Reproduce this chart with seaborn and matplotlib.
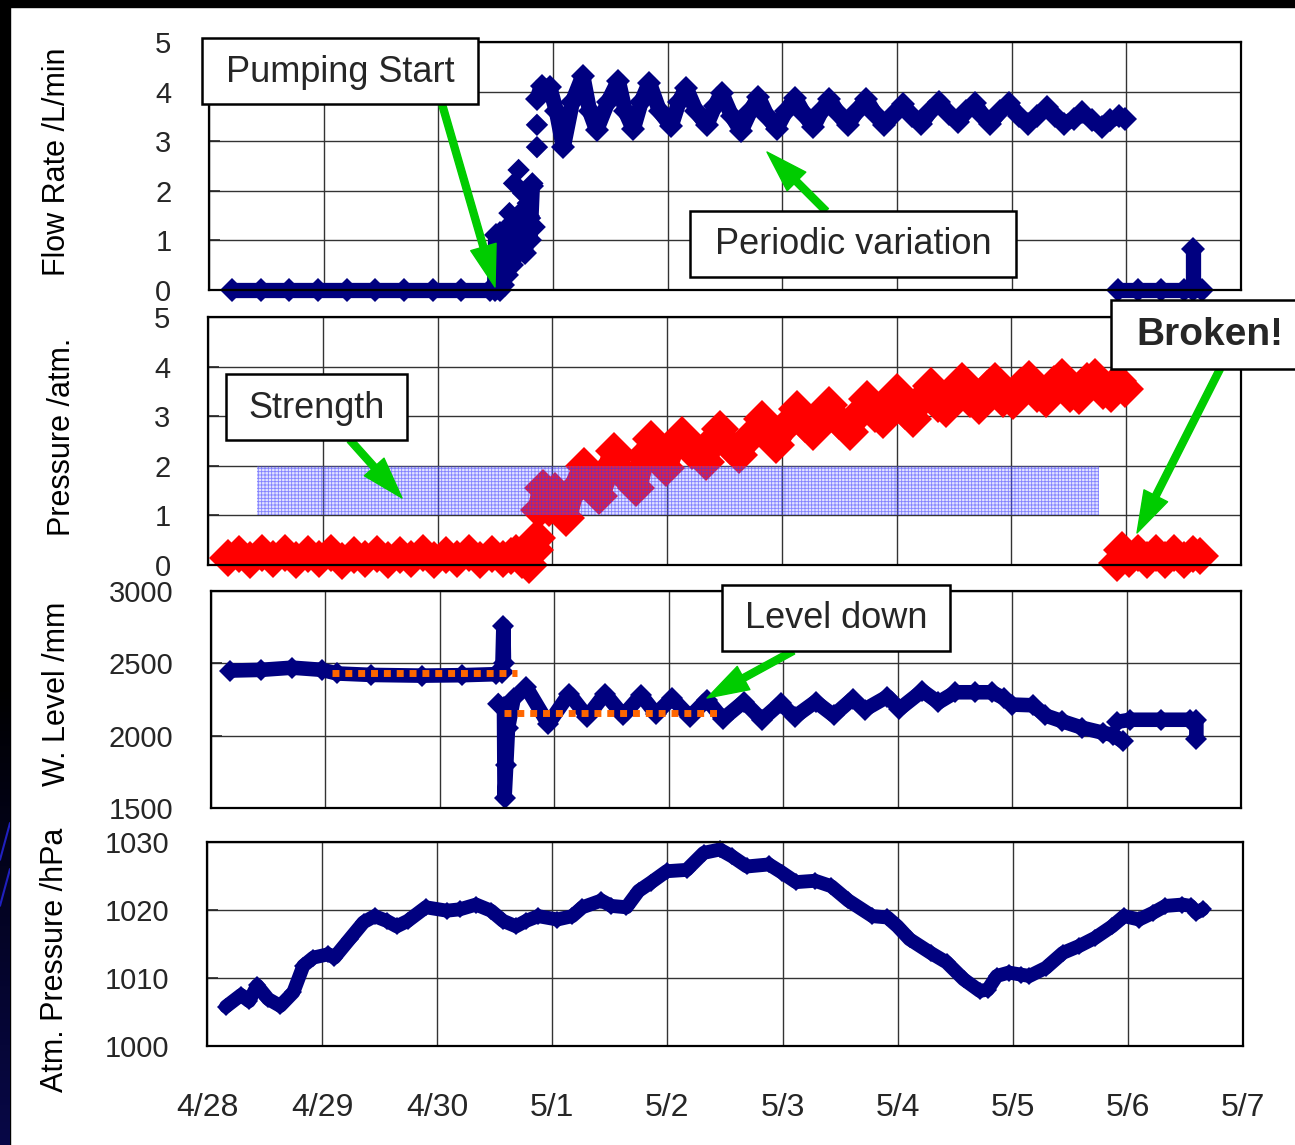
import matplotlib
matplotlib.use("Agg")
import matplotlib.pyplot as plt
import numpy as np
import pandas as pd
import seaborn as sns
from matplotlib.patches import Rectangle, FancyArrowPatch

# ---------------- data (x = days since 4/28 00:00) ----------------
day_ticks = [0, 1, 2, 3, 4, 5, 6, 7, 8, 9]
day_labels = ["4/28", "4/29", "4/30", "5/1", "5/2", "5/3", "5/4", "5/5", "5/6", "5/7"]

# Flow rate (L/min)
flow_idle_days = [0.20, 0.45, 0.70, 0.95, 1.20, 1.45, 1.70, 1.95, 2.20, 2.45, 2.54]
flow_idle_vals = [0, 0, 0, 0, 0, 0, 0, 0, 0, 0, 0]
flow_start_days = [2.49, 2.50, 2.52, 2.54, 2.56, 2.58, 2.60, 2.62, 2.64, 2.66, 2.68,
                   2.70, 2.72, 2.74, 2.76, 2.78, 2.80, 2.82]
flow_start_vals = [0.0, 1.10, 0.05, 1.15, 0.10, 1.20, 0.30, 1.20, 0.50, 1.30, 0.70,
                   1.25, 0.90, 1.60, 0.75, 1.50, 1.00, 2.10]
flow_burst_days = [2.55, 2.60, 2.62, 2.66, 2.69, 2.70, 2.72, 2.74, 2.78, 2.80, 2.82,
                   2.84, 2.86, 2.86]
flow_burst_vals = [0.45, 0.55, 1.55, 2.15, 0.74, 2.42, 0.87, 1.95, 1.75, 1.45, 2.15,
                   1.27, 2.88, 3.33]
flow_run_days = [2.86, 2.90, 2.97, 3.03, 3.09, 3.17, 3.26, 3.32, 3.38, 3.48, 3.57,
                 3.63, 3.70, 3.77, 3.84, 3.93, 4.03, 4.10, 4.16, 4.25, 4.34, 4.41,
                 4.47, 4.56, 4.64, 4.72, 4.79, 4.87, 4.95, 5.03, 5.11, 5.19, 5.27,
                 5.34, 5.41, 5.49, 5.57, 5.65, 5.73, 5.81, 5.89, 5.97, 6.05, 6.13,
                 6.21, 6.29, 6.37, 6.45, 6.53, 6.60, 6.68, 6.75, 6.81, 6.90, 6.98,
                 7.06, 7.14, 7.22, 7.31, 7.38, 7.46, 7.54, 7.61, 7.70, 7.79, 7.86,
                 7.94, 7.99]
flow_run_vals = [3.85, 4.12, 4.10, 3.60, 2.88, 3.80, 4.32, 3.60, 3.22, 3.80, 4.22,
                 3.60, 3.24, 3.80, 4.18, 3.60, 3.30, 3.80, 4.08, 3.60, 3.32, 3.70,
                 3.98, 3.50, 3.20, 3.60, 3.90, 3.50, 3.25, 3.60, 3.88, 3.55, 3.28,
                 3.60, 3.85, 3.55, 3.32, 3.60, 3.85, 3.55, 3.32, 3.55, 3.75, 3.50,
                 3.34, 3.60, 3.80, 3.55, 3.38, 3.60, 3.77, 3.50, 3.35, 3.60, 3.77,
                 3.50, 3.35, 3.50, 3.68, 3.50, 3.35, 3.45, 3.58, 3.42, 3.28, 3.42,
                 3.50, 3.45]
flow_stop_days = [7.93, 8.10, 8.30, 8.50, 8.66]
flow_stop_vals = [0, 0, 0, 0, 0]
flow_spike_days = [8.58, 8.58]
flow_spike_vals = [0.0, 0.82]

# Water pressure (atm)
pres_idle_days = [0.17, 0.27, 0.37, 0.47, 0.57, 0.67, 0.77, 0.87, 0.97, 1.07, 1.17,
                  1.27, 1.37, 1.47, 1.57, 1.67, 1.77, 1.87, 1.97, 2.07, 2.17, 2.27,
                  2.37, 2.47, 2.57, 2.64]
pres_idle_vals = [0.15, 0.22, 0.10, 0.24, 0.12, 0.25, 0.10, 0.22, 0.12, 0.24, 0.08,
                  0.20, 0.12, 0.22, 0.10, 0.20, 0.12, 0.24, 0.10, 0.20, 0.12, 0.24,
                  0.10, 0.22, 0.12, 0.18]
pres_dip_days = [2.68, 2.74, 2.80, 2.85, 2.87]
pres_dip_vals = [0.25, 0.10, 0.00, 0.30, 0.55]
pres_run_days = [2.88, 2.92, 2.97, 3.02, 3.07, 3.12, 3.18, 3.28, 3.35, 3.41, 3.48,
                 3.54, 3.63, 3.73, 3.80, 3.86, 3.93, 3.99, 4.06, 4.13, 4.22, 4.34,
                 4.40, 4.46, 4.55, 4.63, 4.73, 4.83, 4.90, 4.95, 5.05, 5.13, 5.20,
                 5.27, 5.34, 5.41, 5.50, 5.59, 5.67, 5.74, 5.81, 5.88, 5.94, 6.00,
                 6.07, 6.14, 6.22, 6.30, 6.36, 6.43, 6.50, 6.57, 6.64, 6.72, 6.79,
                 6.86, 6.93, 7.01, 7.08, 7.15, 7.22, 7.30, 7.37, 7.44, 7.51, 7.59,
                 7.66, 7.73, 7.80, 7.87, 7.93, 7.99]
pres_run_vals = [1.10, 1.55, 1.15, 1.50, 1.15, 0.95, 1.50, 2.00, 1.60, 1.40, 1.90,
                 2.30, 1.80, 1.55, 2.20, 2.55, 2.20, 1.95, 2.40, 2.62, 2.30, 2.08,
                 2.50, 2.75, 2.40, 2.22, 2.60, 2.95, 2.60, 2.42, 2.85, 3.15, 2.85,
                 2.68, 3.00, 3.22, 2.90, 2.68, 3.05, 3.35, 3.05, 2.92, 3.20, 3.48,
                 3.10, 2.95, 3.35, 3.60, 3.25, 3.15, 3.50, 3.70, 3.35, 3.20, 3.55,
                 3.70, 3.35, 3.30, 3.60, 3.75, 3.45, 3.35, 3.65, 3.80, 3.45, 3.40,
                 3.70, 3.80, 3.50, 3.45, 3.70, 3.55]
pres_after_days = [7.92, 7.96, 8.02, 8.10, 8.18, 8.26, 8.34, 8.42, 8.50, 8.58, 8.64]
pres_after_vals = [0.05, 0.30, 0.12, 0.24, 0.10, 0.24, 0.10, 0.24, 0.10, 0.22, 0.18]
strength_days = [0.43, 7.76]
strength_low, strength_high = 1.0, 2.0

# Water level (mm)
wl_pre_days = [0.17, 0.44, 0.71, 0.97, 1.10, 1.40, 1.84, 2.19, 2.49, 2.54]
wl_pre_vals = [2450, 2455, 2470, 2455, 2430, 2420, 2415, 2418, 2425, 2430]
wl_jump_days = [2.545, 2.555, 2.56]
wl_jump_vals = [2450, 2760, 2500]
wl_odd_days = [2.51]
wl_odd_vals = [2220]
wl_run_days = [2.56, 2.565, 2.58, 2.595, 2.645, 2.755, 2.947, 3.130, 3.287, 3.444,
               3.601, 3.758, 3.888, 4.028, 4.185, 4.333, 4.473, 4.656, 4.813, 4.978,
               5.100, 5.283, 5.440, 5.606, 5.711, 5.911, 6.016, 6.216, 6.356, 6.504,
               6.678, 6.827, 6.931, 7.001, 7.184, 7.289, 7.437, 7.611, 7.794, 7.881,
               7.968]
wl_run_vals = [2200, 1570, 1800, 2050, 2260, 2335, 2080, 2290, 2130, 2290,
               2140, 2280, 2150, 2260, 2130, 2250, 2115, 2235, 2110, 2225,
               2130, 2235, 2140, 2255, 2180, 2270, 2185, 2310, 2230, 2300,
               2300, 2300, 2258, 2215, 2210, 2140, 2100, 2055, 2020, 2005,
               1960]
wl_after_days = [7.916, 8.03, 8.30, 8.55, 8.61, 8.61]
wl_after_vals = [2095, 2110, 2110, 2110, 2105, 1980]
level_before_days = [1.06, 2.67]
level_before = 2430
level_after_days = [2.56, 4.46]
level_after = 2160

# Atmospheric pressure (hPa)
atm_days = [0.165, 0.296, 0.366, 0.436, 0.532, 0.636, 0.75, 0.837, 0.924, 1.055,
            1.107, 1.238, 1.36, 1.456, 1.561, 1.648, 1.744, 1.901, 2.084, 2.197,
            2.337, 2.467, 2.572, 2.685, 2.772, 2.877, 3.043, 3.173, 3.261, 3.426,
            3.513, 3.644, 3.749, 3.853, 3.993, 4.167, 4.315, 4.455, 4.56, 4.69,
            4.882, 4.995, 5.117, 5.283, 5.423, 5.571, 5.78, 5.911, 5.998, 6.103,
            6.286, 6.425, 6.574, 6.713, 6.783, 6.861, 6.966, 7.07, 7.145, 7.288,
            7.436, 7.576, 7.715, 7.863, 7.968, 8.097, 8.22, 8.326, 8.474, 8.544,
            8.596, 8.649]
atm_vals = [1005.8, 1007.5, 1006.6, 1008.9, 1006.9, 1005.9, 1007.9, 1011.8, 1013.0, 1013.5,
            1013.0, 1015.7, 1018.2, 1019.1, 1018.4, 1017.6, 1018.4, 1020.4, 1019.9, 1020.1,
            1020.8, 1019.9, 1018.4, 1017.6, 1018.4, 1019.1, 1018.6, 1019.1, 1020.4, 1021.4,
            1020.6, 1020.4, 1022.8, 1024.0, 1025.7, 1025.9, 1028.4, 1028.9, 1027.9, 1026.4,
            1026.7, 1025.5, 1024.1, 1024.3, 1023.5, 1021.4, 1019.1, 1018.9, 1017.6, 1015.7,
            1013.7, 1012.3, 1009.8, 1008.1, 1008.3, 1010.3, 1010.8, 1010.5, 1010.3, 1011.5,
            1013.7, 1014.7, 1015.9, 1017.6, 1019.1, 1018.6, 1019.6, 1020.6, 1020.8, 1020.6,
            1019.6, 1020.1]

# ---------------- styling ----------------
sns.set_style("white")
plt.rcParams["font.family"] = ["Liberation Sans", "DejaVu Sans"]
plt.rcParams["hatch.linewidth"] = 0.6
TICK_FONT = ["Liberation Sans", "DejaVu Sans"]
NAVY = "#000080"
RED = "#ff0000"
GREEN = "#00cc00"

W, H = 1295, 1145
fig = plt.figure(figsize=(W / 100, H / 100), dpi=100)
fig.patch.set_facecolor("white")


def axes_px(l, t, r, b):
    return fig.add_axes([l / W, 1 - b / H, (r - l) / W, (b - t) / H])


def frame(df_parts):
    rows = []
    for i, (d, v) in enumerate(df_parts):
        rows.append(pd.DataFrame({"day": d, "value": v, "seg": i}))
    return pd.concat(rows, ignore_index=True)


def style(ax, ylim, yticks, show_x=False):
    ax.set_xlim(0, 9)
    ax.set_ylim(*ylim)
    ax.set_xticks(day_ticks)
    ax.set_yticks(yticks)
    ax.set_facecolor("white")
    ax.grid(True, color="#333333", lw=1.0)
    ax.set_axisbelow(True)
    for s in ax.spines.values():
        s.set_visible(True)
        s.set_color("black")
        s.set_linewidth(1.6)
    ax.tick_params(axis="y", direction="in", length=8, width=1.2, pad=27,
                   labelsize=21, left=True)
    ax.tick_params(axis="x", direction="in", length=0, labelsize=23,
                   labelbottom=show_x, pad=34)
    ax.set_xlabel("")
    ax.set_ylabel("")
    if show_x:
        ax.set_xticklabels(day_labels)
    ax.set_yticklabels([str(t) for t in yticks])
    for lab in ax.get_yticklabels() + ax.get_xticklabels():
        lab.set_fontfamily(TICK_FONT)


def draw_band(ax, parts, color, lw, ms):
    sns.lineplot(data=frame(parts), x="day", y="value", units="seg",
                 estimator=None, sort=False, color=color, lw=lw, marker="D",
                 markersize=ms, markeredgewidth=0, ax=ax, legend=False)


# ---- Flow rate ----
ax1 = axes_px(209, 42, 1241, 290)
draw_band(ax1, [(flow_idle_days, flow_idle_vals), (flow_start_days, flow_start_vals),
                (flow_run_days, flow_run_vals), (flow_stop_days, flow_stop_vals),
                (flow_spike_days, flow_spike_vals)], NAVY, 11, 12)
sns.scatterplot(x=flow_burst_days, y=flow_burst_vals, marker="D", s=130,
                color=NAVY, edgecolor="none", ax=ax1, legend=False)
style(ax1, (0, 5), [0, 1, 2, 3, 4, 5])

# ---- Water pressure ----
ax2 = axes_px(208, 317, 1241, 565)
draw_band(ax2, [(pres_idle_days, pres_idle_vals), (pres_dip_days, pres_dip_vals),
                (pres_run_days, pres_run_vals), (pres_after_days, pres_after_vals)],
          RED, 16, 19)
ax2.fill_between(strength_days, strength_low, strength_high,
                 facecolor=(0.55, 0.55, 1.0, 0.25), edgecolor=(0.2, 0.2, 1.0, 0.55),
                 hatch="+++++", linewidth=0, zorder=4)
style(ax2, (0, 5), [0, 1, 2, 3, 4, 5])

# ---- Water level ----
ax3 = axes_px(211, 591, 1241, 808)
draw_band(ax3, [(wl_pre_days, wl_pre_vals), (wl_jump_days, wl_jump_vals),
                (wl_run_days, wl_run_vals), (wl_after_days, wl_after_vals)],
          NAVY, 10.5, 11)
sns.scatterplot(x=wl_odd_days, y=wl_odd_vals, marker="D", s=130, color=NAVY,
                edgecolor="none", ax=ax3, legend=False)
ax3.plot(level_before_days, [level_before] * 2, color="#ff6600", lw=5,
         linestyle=(0, (1, 0.85)), dash_capstyle="butt", zorder=5)
ax3.plot(level_after_days, [level_after] * 2, color="#ff6600", lw=5,
         linestyle=(0, (1, 0.85)), dash_capstyle="butt", zorder=5)
style(ax3, (1500, 3000), [1500, 2000, 2500, 3000])

# ---- Atmospheric pressure ----
ax4 = axes_px(207, 842, 1243, 1046)
sns.lineplot(x=atm_days, y=atm_vals, sort=False, color=NAVY, lw=10, marker="D",
             markersize=9, markeredgewidth=0, ax=ax4, legend=False)
style(ax4, (1000, 1030), [1000, 1010, 1020, 1030], show_x=True)

for ax in (ax1, ax2, ax3, ax4):
    for ln in ax.lines:
        ln.set_clip_on(False)
    for c in ax.collections:
        c.set_clip_on(False)

# ---- axis titles ----
ylabels = [("Flow Rate /L/min", 57, 162), ("Pressure /atm.", 62, 437),
           ("W. Level /mm", 57, 694), ("Atm. Pressure /hPa", 55, 960)]
for txt, x, y in ylabels:
    fig.text(x / W, 1 - y / H, txt, rotation=90, ha="center", va="center",
             fontsize=22, color="black")

# ---- slide frame ----
fig.add_artist(Rectangle((0, 1 - 7 / H), 1, 7 / H, transform=fig.transFigure,
                         color="black", zorder=0))
fig.add_artist(Rectangle((0, 0), 10 / W, 1, transform=fig.transFigure,
                         color="black", zorder=0))
grad_ax = fig.add_axes([0, 0, 10 / W, 460 / H])
grad_ax.imshow((1 - np.linspace(0, 1, 200)).reshape(-1, 1, 1)
               * np.array([0.03, 0.03, 0.28]).reshape(1, 1, 3), aspect="auto",
               extent=(0, 1, 0, 1), origin="lower")
grad_ax.plot([0, 1], [0.62, 0.70], color="#2020c0", lw=1.5)
grad_ax.plot([0, 1], [0.52, 0.60], color="#2020c0", lw=1.5)
grad_ax.set_xlim(0, 1)
grad_ax.set_ylim(0, 1)
grad_ax.axis("off")


# ---- callouts ----
def px(x, y):
    return (x / W, 1 - y / H)


def callout(text, box, tip, tail, bold=False, size=26, text_x=None):
    l, t, r, b = box
    arr = FancyArrowPatch(px(*tail), px(*tip), transform=fig.transFigure,
                          arrowstyle="simple,head_length=30,head_width=19,tail_width=5",
                          mutation_scale=1, color=GREEN, shrinkA=0, shrinkB=0,
                          zorder=6)
    fig.add_artist(arr)
    fig.add_artist(Rectangle(px(l, b), (r - l) / W, (b - t) / H,
                             transform=fig.transFigure, facecolor="white",
                             edgecolor="black", lw=1.8, zorder=7))
    cx = (l + r) / 2 if text_x is None else text_x
    fig.text(*px(cx, (t + b) / 2 + 1), text, ha="center", va="center",
             fontsize=size, fontweight="bold" if bold else "normal", zorder=8)


callout("Pumping Start", (202, 38, 478, 104), (495, 287), (442, 104))
callout("Periodic variation", (690, 211, 1016, 277), (767, 152), (826, 211))
callout("Strength", (226, 374, 407, 440), (402, 498), (350, 440))
callout("Broken!", (1111, 300, 1320, 369), (1137, 533), (1220, 369), bold=True,
        size=28, text_x=1210)
callout("Level down", (722, 585, 950, 651), (707, 698), (793, 651))

fig.savefig("out.png", dpi=100, facecolor="white")
